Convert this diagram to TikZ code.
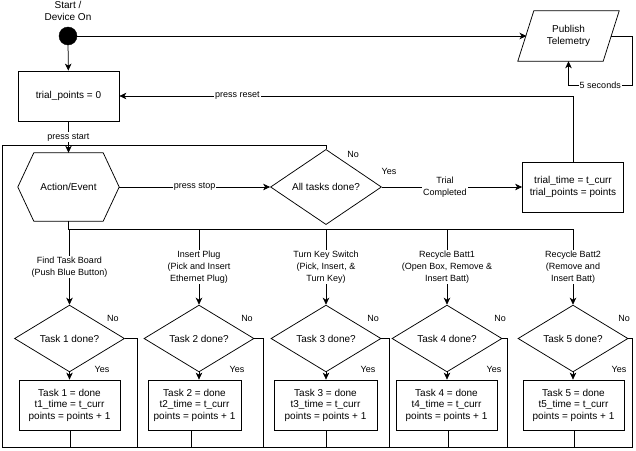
\documentclass[tikz,border=0pt]{standalone}
\usepackage{fontspec}
\setmainfont{Liberation Sans}
\usetikzlibrary{shapes.geometric,arrows.meta,calc}
\begin{document}
\begin{tikzpicture}[x=1pt,y=-1pt,
  every node/.style={font=\fontsize{10}{11.5}\selectfont},
  line/.style={line width=0.75pt, draw=black},
  arr/.style={line, -{Stealth[length=7pt,width=6.5pt,inset=2pt]}},
  box/.style={draw, line width=0.75pt, rectangle, minimum width=101pt, minimum height=50pt, inner sep=0pt, align=center},
  dia/.style={draw, line width=0.75pt, diamond, minimum width=110pt, minimum height=60pt, inner sep=0pt, align=center},
  lbl/.style={font=\fontsize{9}{12}\selectfont, fill=white, inner sep=1pt, align=center},
  ylbl/.style={font=\fontsize{9}{12}\selectfont, inner sep=1pt}
]
\useasboundingbox (0,0) rectangle (636,450);

% start
\node[align=center] (starttxt) at (68,11) {Start /\\Device On};
\node[circle, fill=black, draw, minimum size=18pt, inner sep=0pt] (start) at (68,36) {};
\node[box] (init) at (68.5,96) {trial\_points = 0};

% publish telemetry
\node[minimum width=101pt, minimum height=50pt, inner sep=0pt, align=center] (pub) at (568.5,36) {Publish\\Telemetry};
\draw[line] (pub.south west) -- ($(pub.north west)+(16,0)$) -- (pub.north east) -- ($(pub.south east)+(-16,0)$) -- cycle;
\coordinate (pubL) at (526.5,36);
\coordinate (pubR) at (610.5,36);

% action/event hexagon
\node[minimum width=101pt, minimum height=68pt, inner sep=0pt] (act) at (68.5,187) {Action/Event};
\draw[line] (act.west) -- ($(act.north west)+(16,0)$) -- ($(act.north east)+(-16,0)$) -- (act.east) -- ($(act.south east)+(-16,0)$) -- ($(act.south west)+(16,0)$) -- cycle;

\node[dia, minimum width=111pt] (all) at (326,187) {All tasks done?};
\node[box] (trial) at (573,187) {trial\_time = t\_curr\\trial\_points = points};

% connectors top
\draw[arr] (start) -- (init);
\draw[arr] (start) -- (pubL);
\draw[arr] (pubR) -- ++(21.5,0) |- node[lbl,pos=0.75]{5 seconds} ($(pub.south)+(0,24)$) -- (pub.south);
\draw[arr] (init) -- node[lbl]{press start} (act);
\draw[arr] (act) -- node[lbl]{press stop} (all);
\draw[arr] (all) -- node[lbl,pos=0.45]{Trial\\Completed} (trial);
\draw[arr] (trial) |- node[lbl,pos=0.87]{press reset} (init);
\node[ylbl] (allno) at (353,154) {No};
\node[ylbl] (allyes) at (389,171) {Yes};

% frame
\coordinate (ftl) at (2,145);
\coordinate (fbl) at (2,447.5);
\coordinate (fbr) at (632,447.5);
\draw[line] (all.north) |- (ftl) -- (fbl);
\draw[line, line width=1.6pt] (fbl) -- (fbr);

% tasks
\node[dia] (d1) at (69.5,338.5) {Task 1 done?};
\node[dia] (d2) at (199,338.5) {Task 2 done?};
\node[dia] (d3) at (326,338.5) {Task 3 done?};
\node[dia] (d4) at (447,338.5) {Task 4 done?};
\node[dia] (d5) at (573,338.5) {Task 5 done?};
\node[box] (b1) at (69.5,405) {Task 1 = done\\t1\_time = t\_curr\\points = points + 1};
\node[box, minimum width=93pt] (b2) at (194.5,405) {Task 2 = done\\t2\_time = t\_curr\\points = points + 1};
\node[box, minimum width=103pt] (b3) at (325.5,405) {Task 3 = done\\t3\_time = t\_curr\\points = points + 1};
\node[box] (b4) at (446.5,405) {Task 4 = done\\t4\_time = t\_curr\\points = points + 1};
\node[box] (b5) at (573.5,405) {Task 5 = done\\t5\_time = t\_curr\\points = points + 1};

% bus
\coordinate (bus) at (68.5,229);
\draw[line] (act.south) -- (bus) -- (bus -| d5.north);

\draw[arr] (bus -| d1.north) -- node[lbl]{Find Task Board\\(Push Blue Button)} (d1.north);
\draw[arr] (bus -| d2.north) -- node[lbl]{Insert Plug\\(Pick and Insert\\Ethernet Plug)} (d2.north);
\draw[arr] (bus -| d3.north) -- node[lbl]{Turn Key Switch\\(Pick, Insert, \&\\Turn Key)} (d3.north);
\draw[arr] (bus -| d4.north) -- node[lbl]{Recycle Batt1\\(Open Box, Remove \&\\Insert Batt)} (d4.north);
\draw[arr] (bus -| d5.north) -- node[lbl]{Recycle Batt2\\(Remove and\\Insert Batt)} (d5.north);

% yes arrows
\draw[arr] (d1.south) -- (d1.south |- b1.north);
\draw[arr] (d2.south) -- (d2.south |- b2.north);
\draw[arr] (d3.south) -- (d3.south |- b3.north);
\draw[arr] (d4.south) -- (d4.south |- b4.north);
\draw[arr] (d5.south) -- (d5.south |- b5.north);

% no lines
\draw[line] (d1.east) -- ++(12,0) coordinate (n1) -- (n1 |- fbl);
\draw[line] (d2.east) -- ++(9,0) coordinate (n2) -- (n2 |- fbl);
\draw[line] (d3.east) -- ++(8,0) coordinate (n3) -- (n3 |- fbl);
\draw[line] (d4.east) -- ++(5,0) coordinate (n4) -- (n4 |- fbl);
\draw[line] (d5.east) -- ++(4,0) coordinate (n5) -- (n5 |- fbl);

% box bottoms
\draw[line] ([xshift=0.5pt]b1.south) coordinate (o1) -- (o1 |- fbl);
\draw[line] ([xshift=-3.5pt]b2.south) coordinate (o2) -- (o2 |- fbl);
\draw[line] ([xshift=0.5pt]b3.south) coordinate (o3) -- (o3 |- fbl);
\draw[line] ([xshift=1.5pt]b4.south) coordinate (o4) -- (o4 |- fbl);
\draw[line] ([xshift=0.5pt]b5.south) coordinate (o5) -- (o5 |- fbl);

% yes/no labels
\node[ylbl] (no1) at (113,318) {No};
\node[ylbl] (no2) at (247,318) {No};
\node[ylbl] (no3) at (373,318) {No};
\node[ylbl] (no4) at (500,318) {No};
\node[ylbl] (no5) at (624,318) {No};
\node[ylbl] (yes1) at (102,369) {Yes};
\node[ylbl] (yes2) at (237,369) {Yes};
\node[ylbl] (yes3) at (368,369) {Yes};
\node[ylbl] (yes4) at (494,369) {Yes};
\node[ylbl] (yes5) at (619,369) {Yes};
\end{tikzpicture}
\end{document}
